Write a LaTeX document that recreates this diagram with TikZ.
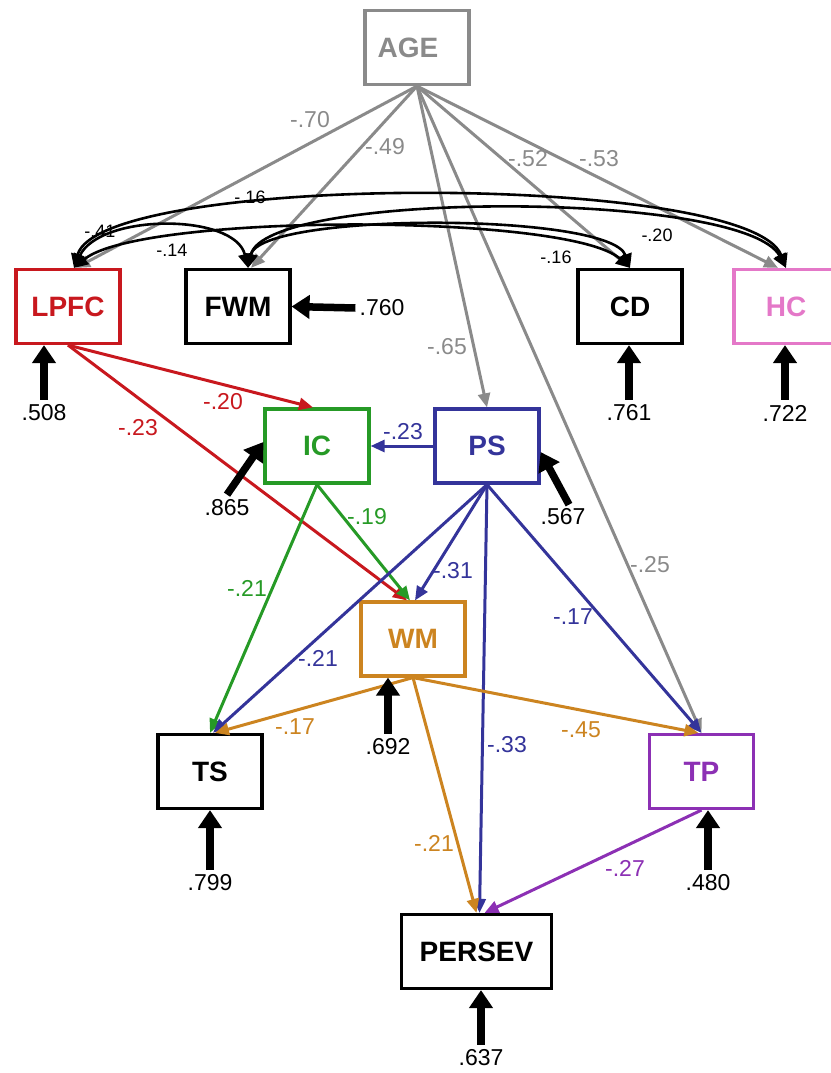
\documentclass[tikz,border=0pt]{standalone}
\usepackage{fontspec}
\setmainfont{Liberation Sans}
\usetikzlibrary{arrows.meta}
\definecolor{agegray}{RGB}{138,138,138}
\definecolor{lpfcred}{RGB}{200,24,30}
\definecolor{hcpink}{RGB}{228,120,200}
\definecolor{icgreen}{RGB}{38,154,38}
\definecolor{psblue}{RGB}{52,52,154}
\definecolor{wmorange}{RGB}{204,132,32}
\definecolor{tppurple}{RGB}{140,48,180}

\begin{document}
\begin{tikzpicture}[x=1pt,y=-1pt,
	    box/.style={draw,line width=3.2pt,minimum width=104pt,minimum height=74pt,inner sep=0pt,font=\fontsize{28}{30}\selectfont\bfseries},
	    effect/.style={line width=3pt,-{Triangle[length=14pt,width=12pt]}},
	    cov/.style={line width=2.6pt,black,{Triangle[length=14pt,width=13pt]}-{Triangle[length=14pt,width=13pt]}},
	    resid/.style={line width=7.5pt,-{Triangle[length=18pt,width=23pt]}},
	    lbl/.style={inner sep=1pt,font=\fontsize{23}{25}\selectfont},
	    clbl/.style={inner sep=1pt,font=\fontsize{18}{20}\selectfont}]
	    \useasboundingbox (0,0) rectangle (830,1073);
	    % variables
	    \node[box,draw=agegray,text=agegray] (age) at (417,47.5) {AGE\hspace*{18pt}};
	    \node[box,draw=lpfcred,text=lpfcred] (lpfc) at (68,306.5) {LPFC};
	    \node[box] (fwm) at (238,306.5) {FWM};
	    \node[box] (cd) at (630,306.5) {CD};
	    \node[box,draw=hcpink,text=hcpink] (hc) at (786,306.5) {HC};
	    \node[box,draw=icgreen,text=icgreen] (ic) at (317,446) {IC};
	    \node[box,draw=psblue,text=psblue] (ps) at (487,446) {PS};
	    \node[box,draw=wmorange,text=wmorange] (wm) at (413,639) {WM};
	    \node[box] (ts) at (210,771.5) {TS};
	    \node[box,draw=tppurple,text=tppurple] (tp) at (701.5,771.5) {TP};
	    \node[box,minimum width=150pt] (persev) at (476.5,951.5) {PERSEV};
	    % age
	    \draw[effect,agegray] (age.south) -- ([xshift=8pt]lpfc.north);
	    \node[lbl,agegray] (w-age-lpfc) at (310,120) {-.70};
	    \draw[effect,agegray] (age.south) -- ([xshift=13pt]fwm.north);
	    \node[lbl,agegray] (w-age-fwm) at (385,147) {-.49};
	    \draw[effect,agegray] (age.south) -- (ps.north);
	    \node[lbl,agegray] (w-age-ps) at (447,347) {-.65};
	    \draw[effect,agegray] (age.south) -- (tp.north);
	    \node[lbl,agegray] (w-age-tp) at (650,565) {-.25};
	    \draw[effect,agegray] (age.south) -- (cd.north);
	    \node[lbl,agegray] (w-age-cd) at (528,159) {-.52};
	    \draw[effect,agegray] (age.south) -- ([xshift=-8pt]hc.north);
	    \node[lbl,agegray] (w-age-hc) at (599,159) {-.53};
	    % covariances
	    \draw[cov] ([xshift=6pt]lpfc.north) .. controls (100,172) and (750,172) .. (hc.north);
	    \node[clbl] (c-lpfc-hc) at (250,197) {-.16};
	    \draw[cov] ([xshift=6pt]lpfc.north) .. controls (100,213) and (235,213) .. ([xshift=10pt]fwm.north);
	    \node[clbl] (c-lpfc-fwm) at (100,231) {-.41};
	    \draw[cov] ([xshift=6pt]lpfc.north) .. controls (140,213) and (570,213) .. (cd.north);
	    \node[clbl] (c-lpfc-cd) at (172,250) {-.14};
	    \draw[cov] ([xshift=10pt]fwm.north) .. controls (265,190) and (745,190) .. (hc.north);
	    \node[clbl] (c-fwm-hc) at (657,235) {-.20};
	    \draw[cov] ([xshift=10pt]fwm.north) .. controls (260,212) and (610,212) .. (cd.north);
	    \node[clbl] (c-fwm-cd) at (556,257) {-.16};
	    % paths
	    \draw[effect,lpfcred] (lpfc.south) -- ([xshift=-4pt]ic.north);
	    \node[lbl,lpfcred] (w-lpfc-ic) at (223,402) {-.20};
	    \draw[effect,lpfcred] (lpfc.south) -- ([xshift=-6pt]wm.north);
	    \node[lbl,lpfcred] (w-lpfc-wm) at (138,428) {-.23};
	    \draw[effect,icgreen] (ic.south) -- ([xshift=-3pt]wm.north);
	    \node[lbl,icgreen] (w-ic-wm) at (367,517) {-.19};
	    \draw[effect,icgreen] (ic.south) -- (ts.north);
	    \node[lbl,icgreen] (w-ic-ts) at (247,588) {-.21};
	    \draw[effect,psblue] (ps.west) -- (ic.east);
	    \node[lbl,psblue] (w-ps-ic) at (403,432) {-.23};
	    \draw[effect,psblue] (ps.south) -- ([xshift=2pt]wm.north);
	    \node[lbl,psblue] (w-ps-wm) at (453,571) {-.31};
	    \draw[effect,psblue] (ps.south) -- ([xshift=3pt]ts.north);
	    \node[lbl,psblue] (w-ps-ts) at (318,658) {-.21};
	    \draw[effect,psblue] (ps.south) -- ([xshift=3pt]persev.north);
	    \node[lbl,psblue] (w-ps-persev) at (507,745) {-.33};
	    \draw[effect,psblue] (ps.south) -- (tp.north);
	    \node[lbl,psblue] (w-ps-tp) at (573,617) {-.17};
	    \draw[effect,wmorange] (wm.south) -- ([xshift=5pt]ts.north);
	    \node[lbl,wmorange] (w-wm-ts) at (295,727) {-.17};
	    \draw[effect,wmorange] (wm.south) -- ([xshift=-3pt]tp.north);
	    \node[lbl,wmorange] (w-wm-tp) at (581,730) {-.45};
	    \draw[effect,wmorange] (wm.south) -- (persev.north);
	    \node[lbl,wmorange] (w-wm-persev) at (434,843) {-.21};
	    \draw[effect,tppurple] (tp.south) -- ([xshift=8pt]persev.north);
	    \node[lbl,tppurple] (w-tp-persev) at (625,868) {-.27};
	    % residuals
	    \node[lbl] (e-lpfc) at (44,413) {.508};
	    \draw[resid] ([yshift=4pt]e-lpfc.north) -- (e-lpfc.north |- lpfc.south);
	    \node[lbl] (e-fwm) at (382,308) {.760};
	    \draw[resid] ([xshift=-3pt]e-fwm.west) -- (fwm.east);
	    \node[lbl] (e-cd) at (629,413) {.761};
	    \draw[resid] ([yshift=4pt]e-cd.north) -- (e-cd.north |- cd.south);
	    \node[lbl] (e-hc) at (785,413) {.722};
	    \draw[resid] ([yshift=4pt]e-hc.north) -- (e-hc.north |- hc.south);
	    \node[lbl] (e-ic) at (227,508) {.865};
	    \draw[resid] ([yshift=4pt]e-ic.north) -- ([yshift=4pt]ic.west);
	    \node[lbl] (e-ps) at (563,517) {.567};
	    \draw[resid] ([xshift=6pt,yshift=3pt]e-ps.north) -- ([yshift=-6pt]ps.east);
	    \node[lbl] (e-wm) at (388,747) {.692};
	    \draw[resid] ([yshift=4pt]e-wm.north) -- (e-wm.north |- wm.south);
	    \node[lbl] (e-ts) at (210,883) {.799};
	    \draw[resid] ([yshift=4pt]e-ts.north) -- (e-ts.north |- ts.south);
	    \node[lbl] (e-tp) at (708,883) {.480};
	    \draw[resid] ([yshift=4pt]e-tp.north) -- (e-tp.north |- tp.south);
	    \node[lbl] (e-persev) at (481,1058) {.637};
	    \draw[resid] ([yshift=4pt]e-persev.north) -- (e-persev.north |- persev.south);
	\end{tikzpicture}
\end{document}
